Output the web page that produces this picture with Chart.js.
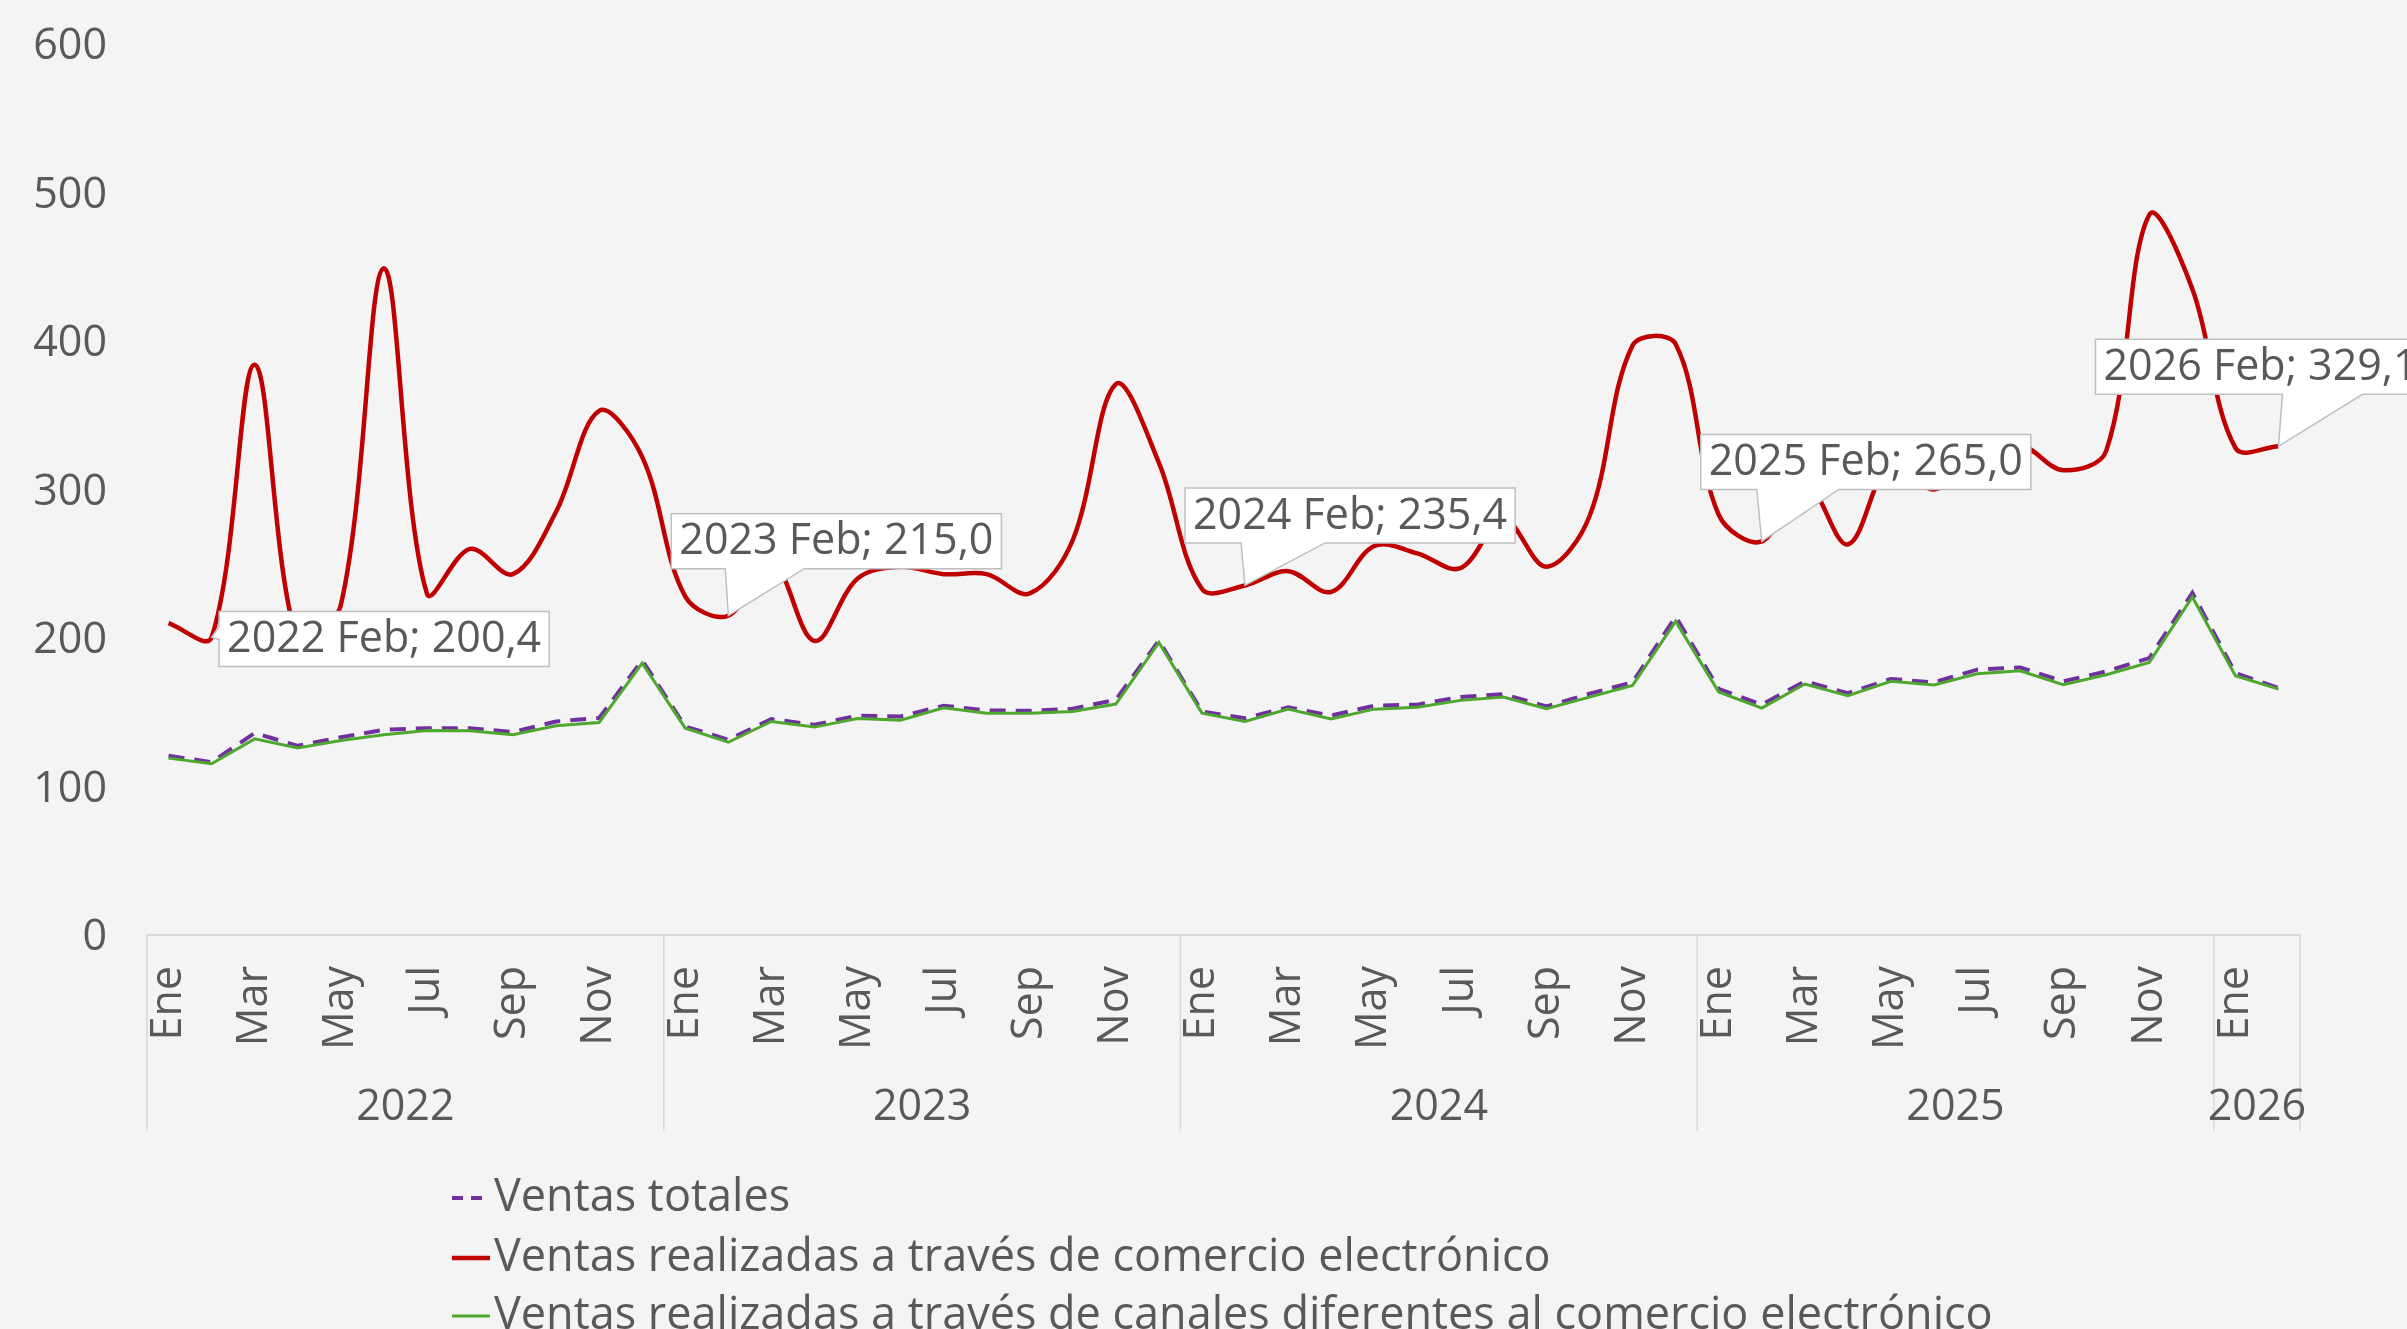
<!DOCTYPE html>
<html lang="es">
<head>
<meta charset="utf-8">
<title>Ventas</title>
<script src="https://cdn.jsdelivr.net/npm/chart.js@4.4.1/dist/chart.umd.min.js"></script>
<style>
  html, body { margin: 0; padding: 0; background: #f4f4f4; overflow: hidden; }
  #grafico { display: block; }
</style>
</head>
<body>
<canvas id="grafico" width="2407" height="1329"></canvas>
<script>
// Datos
const meses = ['Ene', 'Feb', 'Mar', 'Abr', 'May', 'Jun', 'Jul', 'Ago', 'Sep', 'Oct', 'Nov', 'Dic'];
const anios = ['2022', '2023', '2024', '2025', '2026'];
const mesesPorAnio = [12, 12, 12, 12, 2];

const ventasTotales = [
    120.7, 116.4, 136.0, 127.4, 133.2, 138.2, 139.3, 139.3, 136.6, 143.8, 146.1, 185.0,
    140.4, 131.5, 145.4, 141.6, 147.6, 147.2, 154.4, 151.2, 151.0, 152.4, 158.4, 198.2,
    150.5, 146.0, 153.3, 147.8, 154.4, 155.1, 160.2, 162.2, 153.9, 162.5, 170.1, 214.4,
    165.7, 155.1, 170.8, 162.9, 172.4, 170.1, 178.7, 180.2, 170.8, 177.5, 186.5, 230.3,
    176.4, 166.3
];
const ventasComercioElectronico = [
    210, 200.4, 384, 198, 222, 449, 230, 260, 243, 285, 353, 322,
    228, 215.0, 252, 198, 240, 248, 243, 243, 230, 266, 371, 318,
    233, 235.4, 245, 231, 262, 257, 247, 280, 248, 282, 397, 398,
    283, 265.0, 305, 263, 318, 300, 322, 330, 313, 326, 485, 435,
    328, 329.1
];
const ventasOtrosCanales = [
    119.1, 115.3, 132.1, 125.9, 131.0, 134.8, 137.7, 137.5, 134.8, 140.9, 143.1, 183.1,
    139.3, 129.8, 143.8, 140.0, 145.8, 144.7, 153.0, 149.4, 149.4, 150.5, 155.5, 197.0,
    149.4, 143.8, 152.1, 145.4, 152.1, 153.3, 158.0, 160.2, 152.4, 160.2, 168.1, 211.2,
    163.7, 152.8, 169.0, 161.1, 170.8, 168.3, 175.9, 177.9, 168.5, 175.3, 183.6, 227.6,
    174.6, 165.6
];

// Etiquetas de mes a partir de los años
const etiquetas = [];
mesesPorAnio.forEach(n => {
    for (let m = 0; m < n; m++) etiquetas.push(meses[m]);
});

const FUENTE = '"Open Sans", sans-serif';
const TAM = 43;
const TAM_LEYENDA = 45;
const GRIS_TEXTO = '#595959';
const GRIS_LINEA = '#d9d9d9';

// Llamadas de febrero (posición de la caja respecto al punto)
const llamadas = [
    { dx: 7.5, dy: -26, lado: 'izquierda', b1: 15, b2: 28 },
    { dx: -57, dy: -102, lado: 'abajo', b1: -3, b2: 76 },
    { dx: -60, dy: -97.5, lado: 'abajo', b1: -4, b2: 80 },
    { dx: -61, dy: -107, lado: 'abajo', b1: -5, b2: 77 },
    { dx: -183, dy: -107, lado: 'abajo', b1: 4, b2: 84 }
];

Chart.defaults.font.family = FUENTE;
Chart.defaults.font.size = TAM;
Chart.defaults.color = GRIS_TEXTO;

// Años y separadores bajo el eje X
const ejeAnios = {
    id: 'ejeAnios',
    afterDraw(chart) {
        const ctx = chart.ctx;
        const x = chart.scales.x;
        const paso = x.getPixelForValue(1) - x.getPixelForValue(0);
        const base = chart.chartArea.bottom;
        ctx.save();
        ctx.strokeStyle = GRIS_LINEA;
        ctx.lineWidth = 1.5;
        ctx.font = `${TAM}px ${FUENTE}`;
        ctx.fillStyle = GRIS_TEXTO;
        ctx.textAlign = 'center';
        ctx.textBaseline = 'middle';
        let inicio = 0;
        mesesPorAnio.forEach((n, k) => {
            const izq = x.getPixelForValue(inicio) - paso / 2;
            const der = x.getPixelForValue(inicio + n - 1) + paso / 2;
            ctx.beginPath();
            ctx.moveTo(izq, base);
            ctx.lineTo(izq, base + 196);
            ctx.stroke();
            if (k === mesesPorAnio.length - 1) {
                ctx.beginPath();
                ctx.moveTo(der, base);
                ctx.lineTo(der, base + 196);
                ctx.stroke();
            }
            ctx.fillText(anios[k], (izq + der) / 2, base + 173);
            inicio += n;
        });
        ctx.restore();
    }
};

// Cajas de texto con puntero
const cajasFebrero = {
    id: 'cajasFebrero',
    afterDatasetsDraw(chart) {
        const ctx = chart.ctx;
        const meta = chart.getDatasetMeta(1);
        ctx.save();
        ctx.font = `${TAM}px ${FUENTE}`;
        let inicio = 0;
        mesesPorAnio.forEach((n, k) => {
            const i = inicio + 1;
            inicio += n;
            const cfg = llamadas[k];
            const pt = meta.data[i];
            const valor = ventasComercioElectronico[i].toFixed(1).replace('.', ',');
            const texto = `${anios[k]} ${meses[1]}; ${valor}`;
            const pad = 8;
            const w = ctx.measureText(texto).width + pad * 2;
            const h = 55;
            const l = pt.x + cfg.dx;
            const t = pt.y + cfg.dy;

            ctx.beginPath();
            if (cfg.lado === 'abajo') {
                ctx.moveTo(l, t);
                ctx.lineTo(l + w, t);
                ctx.lineTo(l + w, t + h);
                ctx.lineTo(pt.x + cfg.b2, t + h);
                ctx.lineTo(pt.x, pt.y);
                ctx.lineTo(pt.x + cfg.b1, t + h);
                ctx.lineTo(l, t + h);
            } else {
                ctx.moveTo(l, t);
                ctx.lineTo(l + w, t);
                ctx.lineTo(l + w, t + h);
                ctx.lineTo(l, t + h);
                ctx.lineTo(l, t + cfg.b2);
                ctx.lineTo(pt.x, pt.y);
                ctx.lineTo(l, t + cfg.b1);
            }
            ctx.closePath();
            ctx.fillStyle = '#ffffff';
            ctx.fill();
            ctx.strokeStyle = '#bfbfbf';
            ctx.lineWidth = 1.5;
            ctx.stroke();

            ctx.fillStyle = GRIS_TEXTO;
            ctx.textAlign = 'left';
            ctx.textBaseline = 'middle';
            ctx.fillText(texto, l + pad, t + h / 2 + 1);
        });
        ctx.restore();
    }
};

// Leyenda en columna
const leyenda = {
    id: 'leyenda',
    afterDraw(chart) {
        const ctx = chart.ctx;
        const filas = [1198, 1258, 1316];
        ctx.save();
        ctx.font = `${TAM_LEYENDA}px ${FUENTE}`;
        ctx.textAlign = 'left';
        ctx.textBaseline = 'middle';
        chart.data.datasets.forEach((ds, k) => {
            const y = filas[k];
            ctx.beginPath();
            ctx.strokeStyle = ds.borderColor;
            ctx.lineWidth = ds.borderWidth;
            ctx.setLineDash(ds.borderDash ? [11, 8] : []);
            ctx.moveTo(452, y);
            ctx.lineTo(490, y);
            ctx.stroke();
            ctx.setLineDash([]);
            ctx.fillStyle = GRIS_TEXTO;
            ctx.fillText(ds.label, 494, y);
        });
        ctx.restore();
    }
};

const ctx = document.getElementById('grafico').getContext('2d');

const myChart = new Chart(ctx, {
    type: 'line',
    data: {
        labels: etiquetas,
        datasets: [
            {
                label: 'Ventas totales',
                data: ventasTotales,
                borderColor: '#7030a0',
                borderWidth: 4,
                borderDash: [16, 10],
                pointRadius: 0,
                tension: 0,
                order: 2
            },
            {
                label: 'Ventas realizadas a través de comercio electrónico',
                data: ventasComercioElectronico,
                borderColor: '#c00000',
                borderWidth: 4.5,
                pointRadius: 0,
                tension: 0.35,
                order: 0
            },
            {
                label: 'Ventas realizadas a través de canales diferentes al comercio electrónico',
                data: ventasOtrosCanales,
                borderColor: '#4ea72e',
                borderWidth: 3,
                pointRadius: 0,
                tension: 0,
                order: 1
            }
        ]
    },
    options: {
        responsive: false,
        animation: false,
        devicePixelRatio: 1,
        layout: { padding: { top: 44, right: 107, left: 0, bottom: 0 } },
        plugins: {
            legend: { display: false },
            tooltip: { enabled: false }
        },
        scales: {
            x: {
                type: 'category',
                offset: true,
                grid: { display: false, drawTicks: false },
                border: { display: true, color: GRIS_LINEA, width: 2 },
                ticks: {
                    autoSkip: false,
                    minRotation: 90,
                    maxRotation: 90,
                    padding: 31,
                    callback: function (value, index) {
                        return index % 2 === 0 ? this.getLabelForValue(value) : null;
                    }
                },
                afterFit: scale => { scale.height = 394; }
            },
            y: {
                min: 0,
                max: 600,
                // sin rejilla; la separación de las etiquetas va por tickLength
                grid: { display: false, drawTicks: true, tickLength: 40 },
                border: { display: false },
                ticks: { stepSize: 100, padding: 0, labelOffset: 3 },
                afterFit: scale => { scale.width = 147; }
            }
        }
    },
    plugins: [ejeAnios, cajasFebrero, leyenda]
});
</script>
</body>
</html>
